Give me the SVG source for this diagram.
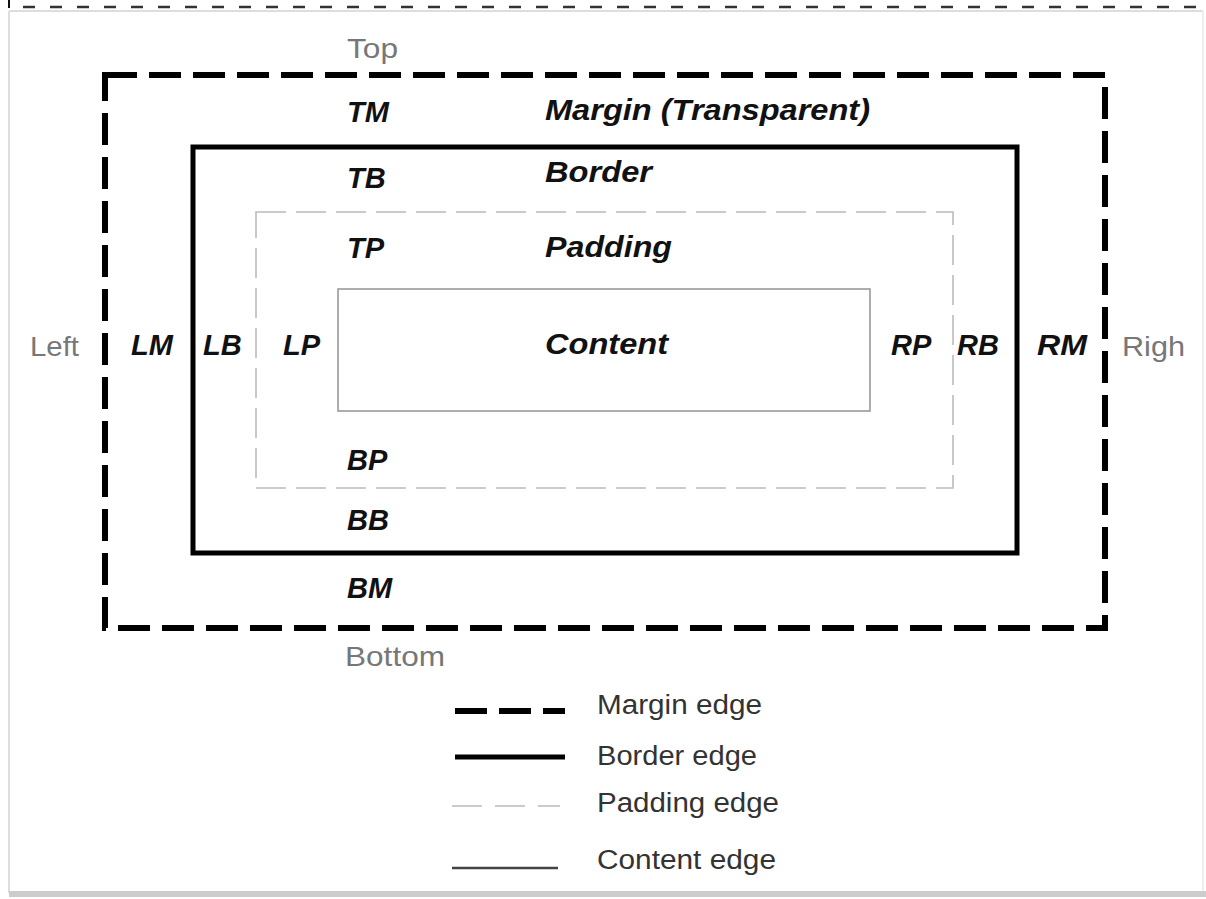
<svg xmlns="http://www.w3.org/2000/svg" width="1206" height="899" viewBox="0 0 1206 899">
<style>
.b{font-family:"Liberation Sans",Arial,sans-serif;font-weight:bold;font-style:italic;font-size:29px;fill:#111}
.r{font-family:"Liberation Sans",Arial,sans-serif;font-size:28px;fill:#777}
.lg{font-family:"Liberation Sans",Arial,sans-serif;font-size:27px;fill:#333}
.margin{fill:none;stroke:#000;stroke-width:6;stroke-dasharray:32 12}
.border{fill:none;stroke:#000;stroke-width:5}
.padding{fill:none;stroke:#bbb;stroke-width:1.6;stroke-dasharray:30 10}
.content{fill:none;stroke:#999;stroke-width:1.6}
</style>
<rect width="1206" height="899" fill="#fff"/>
<g id="page-edge">
<line x1="9" y1="0" x2="9" y2="8" stroke="#111" stroke-width="2"/>
<line x1="23" y1="7" x2="1206" y2="7" stroke="#333" stroke-width="2.5" stroke-dasharray="12 15"/>
<line x1="9" y1="11" x2="1203" y2="11" stroke="#ddd" stroke-width="2"/>
<line x1="9" y1="11" x2="9" y2="893" stroke="#ddd" stroke-width="2"/>
<line x1="1203" y1="11" x2="1203" y2="893" stroke="#eee" stroke-width="2"/>
<rect x="9" y="891" width="1197" height="6" fill="#ccc"/>
</g>
<g id="connectors"></g>
<g id="margin-box"><rect class="margin" x="105" y="75" width="1000" height="553"/></g>
<g id="border-box"><rect class="border" x="193" y="147" width="824" height="406"/></g>
<g id="padding-box"><rect class="padding" x="256" y="212" width="697" height="276"/></g>
<g id="content-box"><rect class="content" x="338" y="289" width="532" height="122"/></g>
<g id="labels">
<text class="r" x="347" y="58" textLength="51" lengthAdjust="spacingAndGlyphs">Top</text>
<text class="r" x="30" y="356" textLength="49" lengthAdjust="spacingAndGlyphs">Left</text>
<text class="r" x="1122" y="356" textLength="63" lengthAdjust="spacingAndGlyphs">Righ</text>
<text class="r" x="345" y="666" textLength="100" lengthAdjust="spacingAndGlyphs">Bottom</text>
<text class="b" x="347" y="122">TM</text>
<text class="b" x="545" y="120" textLength="325" lengthAdjust="spacingAndGlyphs">Margin (Transparent)</text>
<text class="b" x="347" y="188">TB</text>
<text class="b" x="545" y="182" textLength="107" lengthAdjust="spacingAndGlyphs">Border</text>
<text class="b" x="347" y="258">TP</text>
<text class="b" x="545" y="257" textLength="127" lengthAdjust="spacingAndGlyphs">Padding</text>
<text class="b" x="131" y="355">LM</text>
<text class="b" x="203" y="355">LB</text>
<text class="b" x="283" y="355">LP</text>
<text class="b" x="545" y="354" textLength="123" lengthAdjust="spacingAndGlyphs">Content</text>
<text class="b" x="891" y="355">RP</text>
<text class="b" x="957" y="355">RB</text>
<text class="b" x="1037" y="355" textLength="50" lengthAdjust="spacingAndGlyphs">RM</text>
<text class="b" x="347" y="470">BP</text>
<text class="b" x="347" y="530">BB</text>
<text class="b" x="347" y="598">BM</text>
</g>
<g id="legend">
<line class="margin" x1="455" y1="711" x2="565" y2="711" stroke-dasharray="32 12"/>
<text class="lg" x="597" y="714" textLength="165" lengthAdjust="spacingAndGlyphs">Margin edge</text>
<line class="border" x1="455" y1="757" x2="565" y2="757" stroke-width="6"/>
<text class="lg" x="597" y="765" textLength="160" lengthAdjust="spacingAndGlyphs">Border edge</text>
<line x1="452" y1="806" x2="560" y2="806" stroke="#bbb" stroke-width="1.6" stroke-dasharray="30 13"/>
<text class="lg" x="597" y="812" textLength="182" lengthAdjust="spacingAndGlyphs">Padding edge</text>
<line x1="452" y1="868" x2="558" y2="868" stroke="#444" stroke-width="2.5"/>
<text class="lg" x="597" y="869" textLength="179" lengthAdjust="spacingAndGlyphs">Content edge</text>
</g>
</svg>
